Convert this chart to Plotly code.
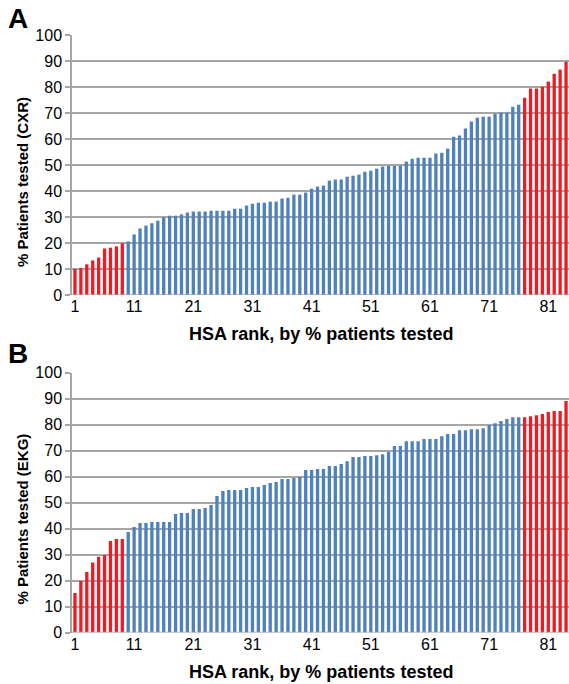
import plotly.graph_objects as go

ranks = list(range(1, 85))
cxr = [10.0, 10.3, 11.8, 13.3, 14.4, 17.9, 18.2, 18.7, 19.9, 20.6,
       23.3, 25.6, 26.7, 27.6, 28.6, 29.9, 30.5, 30.5, 31.0, 31.7,
       32.1, 32.1, 32.1, 32.4, 32.4, 32.4, 32.4, 33.2, 33.2, 34.4,
       35.1, 35.5, 35.5, 35.9, 35.9, 37.1, 37.4, 38.6, 38.6, 39.4,
       40.9, 41.7, 42.1, 44.0, 44.4, 44.4, 45.5, 45.9, 46.3, 47.4,
       47.8, 48.6, 49.4, 49.7, 49.7, 49.7, 51.3, 52.4, 52.8, 52.8,
       52.8, 54.4, 54.7, 56.3, 60.9, 61.3, 64.0, 66.7, 68.2, 68.6,
       68.6, 69.7, 70.1, 70.1, 72.4, 73.2, 75.9, 79.4, 79.4, 80.1,
       82.1, 85.1, 86.7, 89.7]
ekg = [15.2, 19.8, 23.3, 26.9, 29.1, 29.8, 35.2, 36.0, 36.0, 38.7,
       40.6, 42.1, 42.1, 42.5, 42.5, 42.5, 42.5, 45.6, 46.0, 46.0,
       47.5, 47.5, 47.9, 49.0, 52.5, 54.4, 54.8, 54.8, 54.8, 55.6,
       56.0, 56.0, 56.7, 57.5, 57.9, 59.0, 59.0, 59.4, 59.8, 62.5,
       62.5, 62.9, 62.9, 64.0, 64.0, 64.8, 65.9, 67.5, 67.5, 67.9,
       67.9, 68.2, 68.6, 69.4, 71.7, 71.7, 73.6, 73.6, 73.6, 74.4,
       74.4, 74.4, 75.5, 76.3, 76.3, 77.8, 77.8, 78.2, 78.2, 78.6,
       79.8, 80.5, 81.3, 82.1, 82.8, 82.8, 82.8, 83.2, 83.6, 84.0,
       84.8, 85.2, 85.2, 89.0]
x_ticks = [1, 11, 21, 31, 41, 51, 61, 71, 81]
y_ticks = [0, 10, 20, 30, 40, 50, 60, 70, 80, 90, 100]
x_title = "HSA rank, by % patients tested"
y_titles = ["% Patients tested (CXR)", "% Patients tested (EKG)"]
panel_labels = ["A", "B"]

RED = "#ED1C24"
BLUE = "#4F81BD"
colors = [RED if (r <= 9 or r >= 77) else BLUE for r in ranks]

W, H = 569, 684
L = 72
fig = go.Figure()
fig.add_trace(go.Bar(x=ranks, y=cxr, marker=dict(color=colors, line=dict(width=0)),
                     xaxis="x", yaxis="y", showlegend=False, hoverinfo="x+y"))
fig.add_trace(go.Bar(x=ranks, y=ekg, marker=dict(color=colors, line=dict(width=0)),
                     xaxis="x2", yaxis="y2", showlegend=False, hoverinfo="x+y"))

FONT = "Liberation Sans, Arial, sans-serif"
GRID = "#A6A6A6"

def ydom(top, bottom):
    return [1 - bottom / H, 1 - top / H]

def px_x(x):
    return (x - L) / (W - L)

def px_y(y):
    return 1 - y / H

xcommon = dict(range=[0.5, 84.5], tickvals=x_ticks, ticks="", showgrid=False,
               showline=False, zeroline=False, automargin=False,
               tickfont=dict(family=FONT, size=16, color="#000"))
ycommon = dict(range=[0, 100], tickvals=y_ticks, showgrid=True, gridcolor=GRID, gridwidth=1.5,
               showline=True, linecolor=GRID, linewidth=1.5, ticks="outside", ticklen=5,
               tickcolor=GRID, tickwidth=1.5, zeroline=False, automargin=False,
               tickfont=dict(family=FONT, size=16, color="#000"))

panels = [(35, 295), (372.5, 632.5)]
letter_tops = [1, 336]
annotations = []
for i, (top, bot) in enumerate(panels):
    annotations.append(dict(text="<b>" + panel_labels[i] + "</b>", x=px_x(6), y=px_y(letter_tops[i]),
                            xref="paper", yref="paper", showarrow=False,
                            xanchor="left", yanchor="top",
                            font=dict(family=FONT, size=28, color="#000")))
    annotations.append(dict(text="<b>" + y_titles[i] + "</b>", x=px_x(22), y=px_y((top + bot) / 2 + 17),
                            xref="paper", yref="paper", showarrow=False, textangle=-90,
                            xanchor="center", yanchor="middle",
                            font=dict(family=FONT, size=15, color="#000")))
    annotations.append(dict(text="<b>" + x_title + "</b>", x=px_x(321), y=px_y(bot + 39),
                            xref="paper", yref="paper", showarrow=False,
                            xanchor="center", yanchor="middle",
                            font=dict(family=FONT, size=18, color="#000")))

fig.update_layout(
    width=W, height=H,
    margin=dict(l=L, r=0, t=0, b=0, pad=0),
    plot_bgcolor="white", paper_bgcolor="white",
    bargap=0.44,
    xaxis=dict(domain=[0, 1], anchor="y", **xcommon),
    xaxis2=dict(domain=[0, 1], anchor="y2", **xcommon),
    yaxis=dict(domain=ydom(*panels[0]), anchor="x", **ycommon),
    yaxis2=dict(domain=ydom(*panels[1]), anchor="x2", **ycommon),
    annotations=annotations,
)

fig.add_shape(type="line", xref="x domain", yref="y", x0=0, x1=1, y0=0, y1=0,
              line=dict(color=GRID, width=1.5))
fig.add_shape(type="line", xref="x2 domain", yref="y2", x0=0, x1=1, y0=0, y1=0,
              line=dict(color=GRID, width=1.5))

fig.write_html("out.html", config={"displayModeBar": False},
               post_script="document.body.style.margin='0';document.body.style.overflow='hidden';")
